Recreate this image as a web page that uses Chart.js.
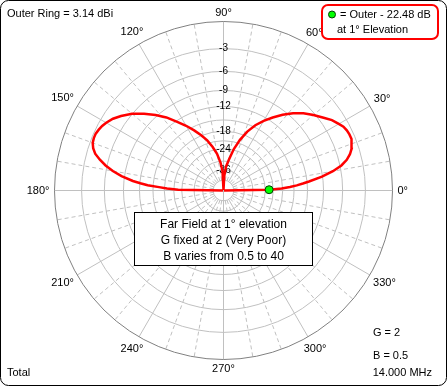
<!DOCTYPE html>
<html>
<head>
<meta charset="utf-8">
<title>Far Field at 1° elevation</title>
<script src="https://cdn.jsdelivr.net/npm/chart.js@4.4.1/dist/chart.umd.min.js"></script>
<style>
  html, body { margin: 0; padding: 0; background: #fff; }
  canvas { display: block; }
</style>
</head>
<body>
<canvas id="pattern" width="447" height="386"></canvas>
<script>
// Elevation pattern (ARRL log scale), gain in dB relative to the outer ring

const elevAngles = [0, 1, 2, 3, 4, 5, 6, 8, 10, 12, 14, 16, 18, 20, 22, 24, 26, 28, 30,
                    33, 36, 40, 44, 48, 52, 56, 60, 64, 68, 72, 76, 80, 84, 87, 90];
// 0° side (right lobe)
const gainRight = [-99, -22.48, -18.3, -16.0, -14.3, -12.9, -11.6, -9.1, -7.2, -5.8, -4.9, -4.3, -3.9, -3.65, -3.52, -3.5, -3.58, -3.75, -4.1,
                   -4.6, -5.35, -6.25, -7.2, -8.35, -9.7, -11.2, -12.75, -14.5, -16.8, -19.8, -23.6, -28.8, -33.5, -42, -99];
// 180° side (left lobe), elevation counted from the 180° horizon
const gainLeft  = [-99, -22.6, -18.8, -16.5, -13.7, -12.1, -10.6, -8.5, -7.0, -5.8, -4.85, -4.05, -3.6, -3.33, -3.25, -3.25, -3.38, -3.55, -3.8,
                   -4.27, -4.95, -5.95, -7.3, -8.75, -10.3, -12.25, -14.0, -15.9, -17.9, -20.0, -22.8, -26.0, -31.0, -37.0, -99];

const markerElev = 1;
const markerGain = -22.48;

const ringLevels = [-3, -6, -9, -12, -15, -18, -21, -24, -30, -36, -48];
const ringLabels = [-3, -6, -9, -12, -18, -24, -36];
const angleTicks = [0, 30, 60, 90, 120, 150, 180, 210, 240, 270, 300, 330];

const outerRing = 'Outer Ring = 3.14 dBi';
const infoLines = ['Far Field at 1° elevation', 'G fixed at 2 (Very Poor)', 'B varies from 0.5 to 40'];
const paramLines = ['G = 2', 'B = 0.5'];
const traceName = 'Total';
const freqText = '14.000 MHz';

const FONT = '"Liberation Sans", Arial, sans-serif';

// ARRL log scale: 0 dB -> 1, each -2 dB -> x0.89
const arrl = (db) => Math.pow(0.89, -db / 2);
const toXY = (ang, db) => {
  const r = arrl(db), a = ang * Math.PI / 180;
  return { x: r * Math.cos(a), y: r * Math.sin(a) };
};

const rightPts = elevAngles.map((e, i) => toXY(e, gainRight[i]));
const leftPts  = elevAngles.map((e, i) => toXY(180 - e, gainLeft[i])).reverse().slice(1);
const trace = rightPts.concat(leftPts);

const polarGrid = {
  id: 'polarGrid',
  beforeDatasetsDraw(chart) {
    const { ctx, scales: { x, y } } = chart;
    const cx = x.getPixelForValue(0), cy = y.getPixelForValue(0);
    const R = x.getPixelForValue(1) - cx;
    const rIn = arrl(ringLevels[ringLevels.length - 1]) * R;

    ctx.save();
    ctx.lineWidth = 1;
    ctx.strokeStyle = '#c0c0c0';

    // rings
    ringLevels.forEach(db => {
      ctx.beginPath();
      ctx.arc(cx, cy, arrl(db) * R, 0, Math.PI * 2);
      ctx.stroke();
    });

    // radials: solid every 30°, dashed every 10°
    for (let a = 0; a < 360; a += 10) {
      const rad = a * Math.PI / 180;
      const c = Math.cos(rad), s = -Math.sin(rad);
      const r0 = (a % 90 === 0) ? 0 : rIn;
      ctx.setLineDash(a % 30 === 0 ? [] : [4, 3]);
      ctx.beginPath();
      ctx.moveTo(cx + r0 * c, cy + r0 * s);
      ctx.lineTo(cx + R * c, cy + R * s);
      ctx.stroke();
    }
    ctx.setLineDash([]);

    // outer ring
    ctx.strokeStyle = '#808080';
    ctx.beginPath();
    ctx.arc(cx, cy, R, 0, Math.PI * 2);
    ctx.stroke();

    // ring labels
    ctx.fillStyle = '#000';
    ctx.font = '10px ' + FONT;
    ctx.textAlign = 'center';
    ctx.textBaseline = 'middle';
    ringLabels.forEach(db => ctx.fillText(String(db), cx, cy - arrl(db) * R));

    // angle labels
    ctx.font = '11px ' + FONT;
    angleTicks.forEach(a => {
      const txt = a + '°';
      const w = ctx.measureText(txt).width;
      const rad = a * Math.PI / 180;
      const c = Math.cos(rad), s = Math.sin(rad);
      const rc = R + 5 + 0.5 * w * Math.abs(c) + 4 * Math.abs(s);
      ctx.fillText(txt, cx + rc * c, cy - rc * s);
    });
    ctx.restore();
  },
  afterDraw(chart) {
    const { ctx, scales: { x, y } } = chart;
    const cx = x.getPixelForValue(0);
    ctx.save();
    ctx.fillStyle = '#000';
    ctx.textBaseline = 'middle';
    ctx.font = '11px ' + FONT;

    ctx.textAlign = 'left';
    ctx.fillText(outerRing, 7, 14);
    ctx.fillText(traceName, 7, 373);
    ctx.fillText(paramLines[0], 373, 333);
    ctx.fillText(paramLines[1], 373, 356);
    ctx.textAlign = 'right';
    ctx.fillText(freqText, 432, 373);

    // legend box
    ctx.strokeStyle = '#ff0000';
    ctx.lineWidth = 2;
    ctx.beginPath();
    ctx.roundRect(322, 5, 116, 34, 6);
    ctx.stroke();
    ctx.beginPath();
    ctx.arc(332, 14.5, 3.5, 0, Math.PI * 2);
    ctx.fillStyle = '#00ff00';
    ctx.fill();
    ctx.lineWidth = 1;
    ctx.strokeStyle = '#004000';
    ctx.stroke();
    ctx.fillStyle = '#000';
    ctx.textAlign = 'left';
    ctx.fillText('= Outer - ' + Math.abs(markerGain).toFixed(2) + ' dB', 340, 15);
    ctx.fillText('at ' + markerElev + '° Elevation', 337, 30);

    // info box
    ctx.fillStyle = '#fff';
    ctx.fillRect(134.5, 212.5, 178, 53);
    ctx.strokeStyle = '#000';
    ctx.lineWidth = 1;
    ctx.strokeRect(134.5, 212.5, 178, 53);
    ctx.fillStyle = '#000';
    ctx.textAlign = 'center';
    ctx.font = '12px ' + FONT;
    infoLines.forEach((t, i) => ctx.fillText(t, cx, 225 + i * 16));

    // frame
    ctx.beginPath();
    ctx.roundRect(0.5, 0.5, 446, 385, 8);
    ctx.stroke();
    ctx.restore();
  }
};

new Chart(document.getElementById('pattern').getContext('2d'), {
  type: 'scatter',
  data: {
    datasets: [
      {
        label: 'marker',
        data: [toXY(markerElev, markerGain)],
        pointRadius: 4,
        pointBackgroundColor: '#00ff00',
        pointBorderColor: '#004000',
        pointBorderWidth: 1
      },
      {
        label: traceName,
        data: trace,
        showLine: true,
        borderColor: '#ff0000',
        borderWidth: 2.5,
        pointRadius: 0,
        tension: 0
      }
    ]
  },
  options: {
    responsive: false,
    animation: false,
    layout: { padding: { left: 54.5, right: 54.5, top: 21.5, bottom: 26.5 } },
    plugins: { legend: { display: false }, tooltip: { enabled: false } },
    scales: {
      x: { type: 'linear', min: -1, max: 1, display: false },
      y: { type: 'linear', min: -1, max: 1, display: false }
    }
  },
  plugins: [polarGrid]
});
</script>
</body>
</html>
